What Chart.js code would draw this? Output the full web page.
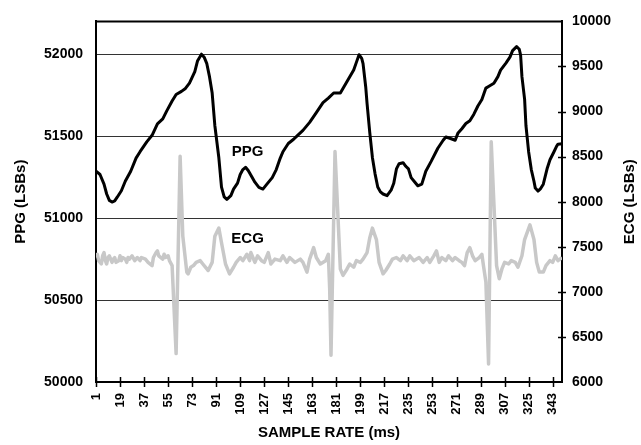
<!DOCTYPE html>
<html>
<head>
<meta charset="utf-8">
<script src="https://cdn.jsdelivr.net/npm/chart.js@4.4.0/dist/chart.umd.min.js"></script>
<style>
  html,body{margin:0;padding:0;background:#fff;}
</style>
</head>
<body>
<canvas id="chart" width="641" height="445"></canvas>
<script>
/* DATA */
const xTicks = [1,19,37,55,73,91,109,127,145,163,181,199,217,235,253,271,289,307,325,343];
const ppgTicks = [50000,50500,51000,51500,52000];
const ecgTicks = [6000,6500,7000,7500,8000,8500,9000,9500,10000];

const ppgSamples = [1,4,7,9,11,13,15,17,20,23,27,31,34,39,43,47,51,54,58,61,65,68,71,75,77,80,82,84,86,88,90,93,95,97,99,
  102,104,107,109,111,113,115,118,120,123,126,129,133,136,139,141,145,149,152,156,161,166,171,175,179,184,189,194,196,198,
  200,201,203,204,206,208,210,212,214,216,219,222,224,226,228,231,233,235,237,240,242,245,248,252,257,261,263,266,270,272,
  275,278,281,284,287,290,293,295,299,302,304,308,311,313,316,318,319,320,322,323,325,327,329,330,332,334,336,339,341,344,
  346,347,350];
const ppgValues = [51287,51266,51207,51147,51108,51098,51105,51129,51167,51226,51286,51366,51405,51465,51505,51575,51605,51654,
  51714,51754,51773,51791,51823,51893,51958,52000,51982,51942,51863,51763,51565,51368,51189,51129,51114,
  51137,51177,51213,51266,51296,51310,51290,51247,51219,51187,51177,51207,51247,51296,51366,51405,51455,51481,51505,51535,
  51584,51644,51704,51732,51763,51763,51833,51903,51950,51997,
  51975,51942,51800,51700,51525,51370,51270,51190,51160,51147,51137,51170,51213,51300,51332,51338,51316,51300,51247,51217,
  51197,51207,51286,51346,51426,51475,51495,51487,51475,51517,
  51545,51577,51594,51634,51684,51724,51793,51803,51823,51863,51903,51946,51982,52022,52046,52030,51994,51863,51724,51565,
  51405,51296,51225,51183,51165,51180,51207,51306,51356,51405,
  51439,51451,51454];

const ecgSamples = [1,2,3,5,6,7,8,9,10,11,13,14,15,16,18,19,20,21,23,24,25,26,28,30,32,33,34,35,38,40,
  43,44,46,47,48,51,52,53,55,56,58,
  61,64,66,69,70,72,74,76,79,81,84,85,88,90,93,95,98,101,104,106,109,111,114,116,117,120,122,125,127,130,
  132,135,139,141,144,146,150,154,156,159,161,164,166,169,173,175,176,177,180,
  184,186,189,191,194,196,199,201,204,206,208,211,213,216,218,221,223,226,229,231,234,236,239,243,
  246,249,251,254,256,258,260,263,265,268,270,273,275,277,279,281,283,285,288,290,
  291,293,295,297,299,301,303,305,307,310,312,315,317,320,322,326,329,331,333,336,338,341,343,345,347,350];
const ecgValues = [7381,7417,7346,7309,7400,7436,7346,7309,7381,7400,7327,7363,7381,7327,7346,7400,7346,7381,7363,7327,
  7381,7363,7400,7346,7381,7363,7346,7381,7363,7327,7291,7381,7436,7454,7400,7363,7417,7381,7400,7346,7291,
  6315,8503,7620,7219,7200,7273,7291,7327,7346,7309,7254,7237,7327,7617,7707,7544,7309,7200,7273,7327,
  7381,7346,7417,7346,7436,7327,7400,7346,7327,7436,7309,7363,7346,7400,7327,7381,7327,7363,7327,7219,
  7363,7490,7381,7309,7346,7417,7037,6296,8557,
  7254,7183,7254,7309,7273,7346,7327,7363,7436,7598,7707,7580,7327,7200,7237,7309,7363,7381,7346,7400,
  7346,7400,7346,7381,
  7327,7381,7327,7400,7454,7327,7381,7346,7400,7346,7381,7346,7327,7291,7436,7490,7400,7346,7381,7417,
  7309,7110,6199,8665,7978,7291,7146,7254,7327,7309,7346,7327,7273,7400,7580,7743,7580,7327,7219,7219,
  7291,7346,7327,7400,7346,7381];

/* inline series labels */
const labelSample = 114.5;
const ppgLabelAt = 51407;
const ecgLabelAt = 7583;

const FONT = "'Liberation Sans', Arial, sans-serif";

/* extra drawing: top frame, crossing tick marks, series labels, right title */
const extras = {
  id: "extras",
  afterDraw(chart){
    const {ctx, chartArea:a, scales} = chart;
    ctx.save();
    ctx.strokeStyle = "#000";
    ctx.lineWidth = 2;
    ctx.beginPath();
    ctx.moveTo(a.left, a.top); ctx.lineTo(a.right, a.top);
    ctx.stroke();

    ctx.lineWidth = 1.5;
    ctx.beginPath();
    xTicks.forEach(v=>{
      const px = Math.round(scales.x.getPixelForValue(v)) + 0.5;
      ctx.moveTo(px, a.bottom-5); ctx.lineTo(px, a.bottom+5);
    });
    ecgTicks.slice(1, -1).forEach(v=>{
      const py = Math.round(scales.y2.getPixelForValue(v)) + 0.5;
      ctx.moveTo(a.right-4, py); ctx.lineTo(a.right+4, py);
    });
    ctx.stroke();

    ctx.fillStyle = "#000";
    ctx.font = "bold 15px " + FONT;
    ctx.textAlign = "center";
    ctx.textBaseline = "middle";
    const lx = scales.x.getPixelForValue(labelSample);
    ctx.fillText("PPG", lx, scales.y.getPixelForValue(ppgLabelAt));
    ctx.fillText("ECG", lx, scales.y2.getPixelForValue(ecgLabelAt));

    ctx.translate(630, (a.top + a.bottom) / 2);
    ctx.rotate(-Math.PI / 2);
    ctx.fillText("ECG (LSBs)", 0, 0);
    ctx.restore();
  }
};

const tickFont = {family: FONT, size: 14, weight: "bold"};

new Chart(document.getElementById("chart"), {
  type: "line",
  data: {
    datasets: [
      {
        label: "ECG",
        data: ecgSamples.map((s,i)=>({x:s, y:ecgValues[i]})),
        yAxisID: "y2",
        borderColor: "#c8c8c8",
        borderWidth: 3.5,
        pointRadius: 0,
        tension: 0,
        borderJoinStyle: "round"
      },
      {
        label: "PPG",
        data: ppgSamples.map((s,i)=>({x:s, y:ppgValues[i]})),
        yAxisID: "y",
        borderColor: "#000",
        borderWidth: 3,
        pointRadius: 0,
        tension: 0,
        borderJoinStyle: "round"
      }
    ]
  },
  options: {
    responsive: false,
    animation: false,
    layout: {padding: {top: 14, left: 0, right: 0, bottom: 0}},
    plugins: {legend: {display: false}, tooltip: {enabled: false}},
    scales: {
      x: {
        type: "linear", min: 1, max: 350,
        afterBuildTicks: s=>{ s.ticks = xTicks.map(v=>({value:v})); },
        afterFit: s=>{ s.height = 63; },
        grid: {display: false, drawTicks: false},
        border: {display: true, color: "#000", width: 2},
        ticks: {autoSkip: false, minRotation: 90, maxRotation: 90, padding: 11, color: "#000",
          font: {family: FONT, size: 13, weight: "bold"}, callback: v=>String(v)},
        title: {display: true, text: "SAMPLE RATE (ms)", color: "#000",
          font: {family: FONT, size: 15, weight: "bold"}, padding: {top: 0, bottom: 3}}
      },
      y: {
        position: "left", min: 50000, max: 52200,
        afterBuildTicks: s=>{ s.ticks = ppgTicks.map(v=>({value:v})); },
        afterFit: s=>{ s.width = 96; },
        grid: {color: "#333", lineWidth: 1, drawTicks: false},
        border: {color: "#000", width: 2},
        ticks: {padding: 13, color: "#000", font: tickFont, callback: v=>String(v)},
        title: {display: true, text: "PPG (LSBs)", color: "#000",
          font: {family: FONT, size: 15, weight: "bold"}, padding: {top: 12, bottom: 0}}
      },
      y2: {
        position: "right", min: 6000, max: 10000,
        afterBuildTicks: s=>{ s.ticks = ecgTicks.map(v=>({value:v})); },
        afterFit: s=>{ s.width = 79; },
        grid: {drawOnChartArea: false, drawTicks: false},
        border: {color: "#000", width: 2},
        ticks: {padding: 10, color: "#000", font: tickFont, callback: v=>String(v)}
      }
    }
  },
  plugins: [extras]
});
</script>
</body>
</html>
